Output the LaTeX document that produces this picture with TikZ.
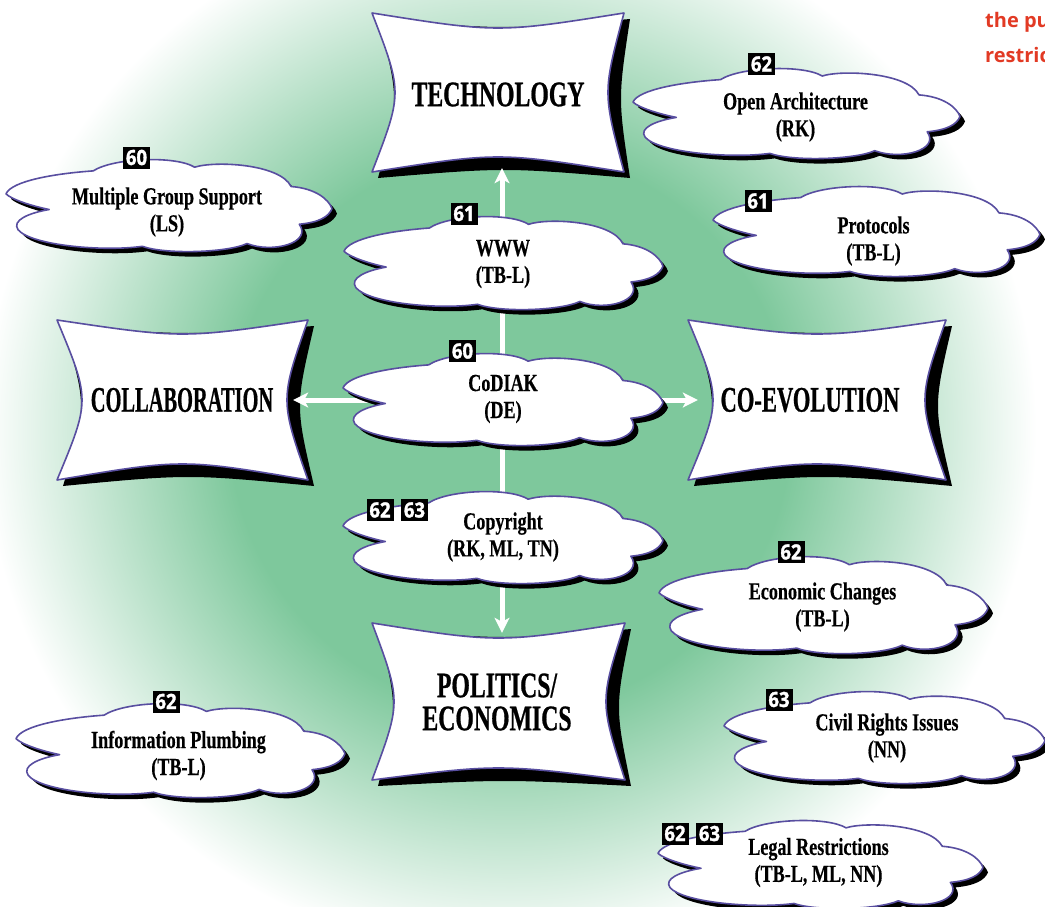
\documentclass[tikz,border=0pt]{standalone}
\usepackage{fontspec}
\usepackage{graphicx}
\usetikzlibrary{arrows.meta}

\newfontfamily\boxfont[FakeStretch=0.66, FakeBold=0.6]{Liberation Serif}
\newfontfamily\cloudfont[FakeStretch=0.74, FakeBold=0.4]{Liberation Serif}
\newfontfamily\badgefont[FakeStretch=0.88, FakeBold=1.5]{Open Sans}
\newfontfamily\notefont{Open Sans}

\definecolor{bggreen}{RGB}{126,200,156}
\definecolor{rim}{RGB}{88,78,160}
\definecolor{notered}{RGB}{226,58,36}

% the path's bounding box maps onto a radius of 25bp
\pgfdeclareradialshading{glow}{\pgfpoint{0bp}{0bp}}{%
  color(0bp)=(bggreen); color(12.5bp)=(bggreen); color(23.5bp)=(white); color(50bp)=(white)}

\tikzset{
  rimline/.style={draw=rim, line width=1.6pt, fill=white, line join=round},
  pillowtext/.style={font=\boxfont\bfseries\fontsize{36}{33}\selectfont, align=center, inner sep=0pt},
  cloudtext/.style={font=\cloudfont\bfseries\fontsize{24.5}{27}\selectfont, align=center, inner sep=0pt},
  badge/.style={fill=black, text=white, font=\badgefont\bfseries\fontsize{21}{21}\selectfont,
    minimum width=27pt, minimum height=22pt, inner sep=0pt},
  note/.style={text=notered, font=\notefont\bfseries\fontsize{20}{24}\selectfont, inner sep=0pt, anchor=base west},
  link/.style={white, line width=5pt,
    {Stealth[length=15pt,width=15pt,inset=4pt]}-{Stealth[length=15pt,width=15pt,inset=4pt]}},
}

% pillow-shaped panel: x0 y0 x1 y1, inward sag of top, right, bottom, left edges;
% the shadow is shifted by 6 and bows 7 less, so it is thickest mid-edge
\newcommand\pillow[8]{%
  \fill[black] (#1+6,#2+6)
    .. controls ({(#1+#3)/2+6},{#2+6+(#5-7)*4/3}) .. (#3+6,#2+6)
    .. controls ({#3+6-(#6-7)*4/3},{(#2+#4)/2+6}) .. (#3+6,#4+6)
    .. controls ({(#1+#3)/2+6},{#4+6-(#7-7)*4/3}) .. (#1+6,#4+6)
    .. controls ({#1+6+(#8-7)*4/3},{(#2+#4)/2+6}) .. (#1+6,#2+6) -- cycle;
  \path[rimline] (#1,#2)
    .. controls ({(#1+#3)/2},{#2+#5*4/3}) .. (#3,#2)
    .. controls ({#3-#6*4/3},{(#2+#4)/2}) .. (#3,#4)
    .. controls ({(#1+#3)/2},{#4-#7*4/3}) .. (#1,#4)
    .. controls ({#1+#8*4/3},{(#2+#4)/2}) .. (#1,#2) -- cycle;
}

% cloud outline in unit coordinates
\newcommand\cloudoutline{(0.135,0.56)
  .. controls (0.08,0.52) and (0.02,0.45) .. (0.003,0.39)
  .. controls (0.02,0.25) and (0.15,0.17) .. (0.27,0.14)
  .. controls (0.33,0.0) and (0.52,-0.03) .. (0.58,0.10)
  .. controls (0.64,0.03) and (0.84,0.06) .. (0.875,0.31)
  .. controls (0.95,0.33) and (0.99,0.45) .. (1.0,0.55)
  .. controls (0.99,0.64) and (0.96,0.70) .. (0.90,0.72)
  .. controls (0.94,0.92) and (0.82,1.04) .. (0.74,0.93)
  .. controls (0.68,1.03) and (0.49,1.05) .. (0.42,0.96)
  .. controls (0.30,1.02) and (0.08,0.95) .. (0.04,0.78)
  .. controls (0.02,0.68) and (0.07,0.60) .. (0.135,0.56) -- cycle}

% cloud with drop shadow: centre x, centre y, width, height
\newcommand\cloudat[4]{%
  \begin{scope}[shift={(#1-#3/2,#2-#4/2)}, x=#3pt, y=-#4pt]
    \fill[black, xshift=5pt, yshift=-5pt] \cloudoutline;
    \path[rimline] \cloudoutline;
  \end{scope}}

\begin{document}
\begin{tikzpicture}[x=1pt, y=-1pt]
\useasboundingbox (0,0) rectangle (1045,907);

% backdrop
\fill[white] (0,0) rectangle (1045,907);
\begin{scope}
  \clip (0,0) rectangle (1045,907);
  \shade[shading=glow] (510,430) circle[radius=560pt];
\end{scope}

% four main panels
\pillow{372}{13}{624}{172}{15}{16}{15}{23}
\pillow{57}{320}{308}{480}{14}{21}{16}{25}
\pillow{688}{320}{946}{480}{14}{21}{16}{25}
\pillow{372}{623}{625}{780}{15}{19}{12}{22}

\node[pillowtext, minimum width=252pt, minimum height=159pt] (tech) at (498,94.5) {TECHNOLOGY};
\node[pillowtext, minimum width=252pt, minimum height=160pt] (collab) at (182,400) {\scalebox{0.86}[1]{COLLABORATION}};
\node[pillowtext, minimum width=244pt, minimum height=160pt] (coevo) at (810,400) {\scalebox{0.95}[1]{CO-EVOLUTION}};
\node[pillowtext, minimum width=252pt, minimum height=158pt] (pol) at (497,702) {POLITICS/\\ECONOMICS};

% axes between the panels
\draw[link, shorten <=-6pt, shorten >=-10pt] ([xshift=4pt]tech.south) -- ([xshift=5pt]pol.north);
\draw[link, shorten <=-15pt, shorten >=-10pt] (collab.east) -- (coevo.west);

% topic clouds
\cloudat{168.5}{204}{327}{92}
\node[cloudtext] (mgs) at (167,212) {Multiple Group Support\\(LS)};
\node[badge] (mgs-ref) at (136.5,157.5) {60};

\cloudat{503}{261.5}{320}{93}
\node[cloudtext] (www) at (503,264) {WWW\\(TB-L)};
\node[badge] (www-ref) at (464,213.5) {61};

\cloudat{502.5}{398}{321}{92}
\node[cloudtext] (codiak) at (503,399) {CoDIAK\\(DE)};
\node[badge] (codiak-ref) at (462.5,351) {60};

\cloudat{502.5}{536}{321}{92}
\node[cloudtext] (copyright) at (503,537) {Copyright\\(RK, ML, TN)};
\node[badge] (copyright-ref1) at (380,510) {62};
\node[badge] (copyright-ref2) at (414.5,510) {63};

\cloudat{796}{112}{328}{90}
\node[cloudtext] (openarch) at (795.5,117) {Open Architecture\\(RK)};
\node[badge] (openarch-ref) at (761.5,64) {62};

\cloudat{876}{230}{328}{90}
\node[cloudtext] (protocols) at (873.5,241) {Protocols\\(TB-L)};
\node[badge] (protocols-ref) at (758,201) {61};

\cloudat{823}{603.5}{330}{97}
\node[cloudtext] (econ) at (822.5,607) {Economic Changes\\(TB-L)};
\node[badge] (econ-ref) at (791,552) {62};

\cloudat{180}{749}{330}{94}
\node[cloudtext] (plumbing) at (178.5,755.5) {Information Plumbing\\(TB-L)};
\node[badge] (plumbing-ref) at (166,701.5) {62};

\cloudat{884}{736}{322}{92}
\node[cloudtext] (civil) at (887,738) {Civil Rights Issues\\(NN)};
\node[badge] (civil-ref) at (779,699.5) {63};

\cloudat{820}{863}{326}{88}
\node[cloudtext] (legal) at (818.5,862.5) {Legal Restrictions\\(TB-L, ML, NN)};
\node[badge] (legal-ref1) at (675,833.5) {62};
\node[badge] (legal-ref2) at (709.5,833.5) {63};

% running text at the page edge
\node[note] (note1) at (985,28) {the pu};
\node[note] (note2) at (985,63) {restric};

\end{tikzpicture}
\end{document}
